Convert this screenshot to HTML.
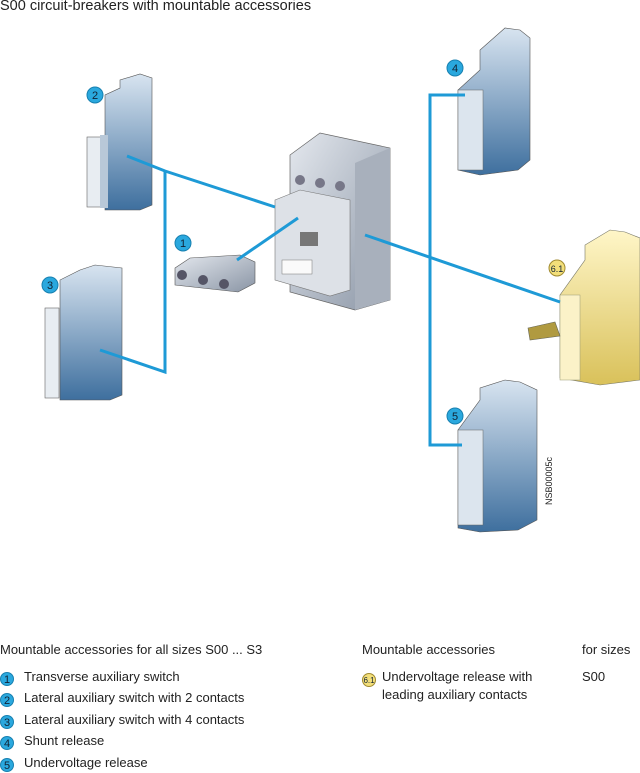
<!DOCTYPE html>
<html><head><meta charset="utf-8"><style>
body{margin:0;background:#fff;width:640px;height:771px;overflow:hidden;font-family:"Liberation Sans",Arial,sans-serif;}
svg{position:absolute;left:0;top:0}
.t{position:absolute;font-size:13px;color:#222;white-space:nowrap}
.c{display:inline-block;width:14px;height:14px;border-radius:50%;background:#2aa8de;color:#123;font-size:11px;text-align:center;line-height:14px;border:1px solid #1780b0;box-sizing:border-box;margin-right:10px;vertical-align:-2px}
</style></head><body>
<svg width="640" height="771" viewBox="0 0 640 771">
<defs>
<linearGradient id="b" x1="0" y1="0" x2="0" y2="1"><stop offset="0" stop-color="#d8e4f0"/><stop offset="1" stop-color="#3e6f9e"/></linearGradient>
<linearGradient id="g" x1="0" y1="0" x2="1" y2="1"><stop offset="0" stop-color="#e4e8ee"/><stop offset="1" stop-color="#8a95a5"/></linearGradient>
<linearGradient id="y" x1="0" y1="0" x2="0" y2="1"><stop offset="0" stop-color="#fff6c8"/><stop offset="1" stop-color="#d9c15a"/></linearGradient>
</defs>
<text x="0" y="10" font-size="14.5" fill="#222">S00 circuit-breakers with mountable accessories</text>
<polygon points="105,135 105,95 120,88 120,80 140,74 152,78 152,205 140,210 105,210" fill="url(#b)" stroke="#555" stroke-width="0.6"/>
<rect x="87" y="137" width="14" height="70" fill="#e8edf2" stroke="#666" stroke-width="0.6"/>
<rect x="100" y="135" width="8" height="73" fill="#b8c8d8"/>
<polygon points="60,300 60,280 80,270 95,265 122,268 122,395 110,400 60,400" fill="url(#b)" stroke="#555" stroke-width="0.6"/>
<rect x="45" y="308" width="14" height="90" fill="#e8edf2" stroke="#666" stroke-width="0.6"/>
<polygon points="175,268 190,258 240,255 255,262 255,283 238,292 175,285" fill="url(#g)" stroke="#555" stroke-width="0.6"/>
<circle cx="182" cy="275" r="5" fill="#556"/><circle cx="203" cy="280" r="5" fill="#556"/><circle cx="224" cy="284" r="5" fill="#556"/>
<polygon points="290,155 320,133 390,148 390,300 355,310 290,292" fill="url(#g)" stroke="#666" stroke-width="0.7"/>
<polygon points="355,163 390,148 390,300 355,310" fill="#a8b0bc"/>
<polygon points="275,200 300,190 350,200 350,290 330,296 275,280" fill="#dde1e7" stroke="#777" stroke-width="0.6"/>
<rect x="282" y="260" width="30" height="14" fill="#fafafa" stroke="#777" stroke-width="0.5"/>
<rect x="300" y="232" width="18" height="14" fill="#777"/>
<circle cx="300" cy="180" r="5" fill="#778"/><circle cx="320" cy="183" r="5" fill="#778"/><circle cx="340" cy="186" r="5" fill="#778"/>
<polygon points="480,70 480,50 505,28 520,30 530,38 530,160 518,170 480,175 458,170 458,90" fill="url(#b)" stroke="#555" stroke-width="0.6"/>
<rect x="458" y="90" width="25" height="80" fill="#dce5ee" stroke="#666" stroke-width="0.5"/>
<polygon points="585,260 585,245 610,230 625,232 640,238 640,380 600,385 560,378 560,295" fill="url(#y)" stroke="#776" stroke-width="0.6"/>
<rect x="560" y="295" width="20" height="85" fill="#fbf2c8" stroke="#997" stroke-width="0.5"/>
<polygon points="528,328 555,322 560,336 530,340" fill="#b09a40" stroke="#665" stroke-width="0.6"/>
<polygon points="480,400 480,388 505,380 520,382 537,390 537,520 518,530 480,532 458,528 458,430" fill="url(#b)" stroke="#555" stroke-width="0.6"/>
<rect x="458" y="430" width="25" height="95" fill="#dce5ee" stroke="#666" stroke-width="0.5"/>
<g stroke="#1e9ad6" stroke-width="3" fill="none">
<polyline points="127,156 165,171 275,207"/>
<polyline points="165,171 165,372 100,350"/>
<line x1="237" y1="260" x2="298" y2="218"/>
<line x1="365" y1="235" x2="560" y2="302"/>
<polyline points="465,95 430,95 430,445 462,445"/>
</g>
<g font-size="11" text-anchor="middle" fill="#123">
<circle cx="95" cy="95" r="8" fill="#2aa8de" stroke="#1780b0"/><text x="95" y="99">2</text>
<circle cx="50" cy="285" r="8" fill="#2aa8de" stroke="#1780b0"/><text x="50" y="289">3</text>
<circle cx="183" cy="243" r="8" fill="#2aa8de" stroke="#1780b0"/><text x="183" y="247">1</text>
<circle cx="455" cy="68" r="8" fill="#2aa8de" stroke="#1780b0"/><text x="455" y="72">4</text>
<circle cx="455" cy="416" r="8" fill="#2aa8de" stroke="#1780b0"/><text x="455" y="420">5</text>
<circle cx="557" cy="268" r="8" fill="#f3df7a" stroke="#a08a30"/><text x="557" y="272" font-size="9">6.1</text>
</g>
<text transform="translate(552,505) rotate(-90)" font-size="9" fill="#222">NSB00005c</text>
</svg>
<div class="t" style="left:0;top:642px">Mountable accessories for all sizes S00 ... S3</div>
<div class="t" style="left:0;top:669px"><span class="c">1</span>Transverse auxiliary switch</div>
<div class="t" style="left:0;top:690px"><span class="c">2</span>Lateral auxiliary switch with 2 contacts</div>
<div class="t" style="left:0;top:712px"><span class="c">3</span>Lateral auxiliary switch with 4 contacts</div>
<div class="t" style="left:0;top:733px"><span class="c">4</span>Shunt release</div>
<div class="t" style="left:0;top:755px"><span class="c">5</span>Undervoltage release</div>
<div class="t" style="left:362px;top:642px">Mountable accessories</div>
<div class="t" style="left:582px;top:642px">for sizes</div>
<div class="t" style="left:362px;top:669px;line-height:16px"><span class="c" style="background:#f3df7a;border-color:#a08a30;font-size:8px;margin-right:6px">6.1</span>Undervoltage release with<br><span style="padding-left:20px">leading auxiliary contacts</span></div>
<div class="t" style="left:582px;top:669px">S00</div>
</body></html>
